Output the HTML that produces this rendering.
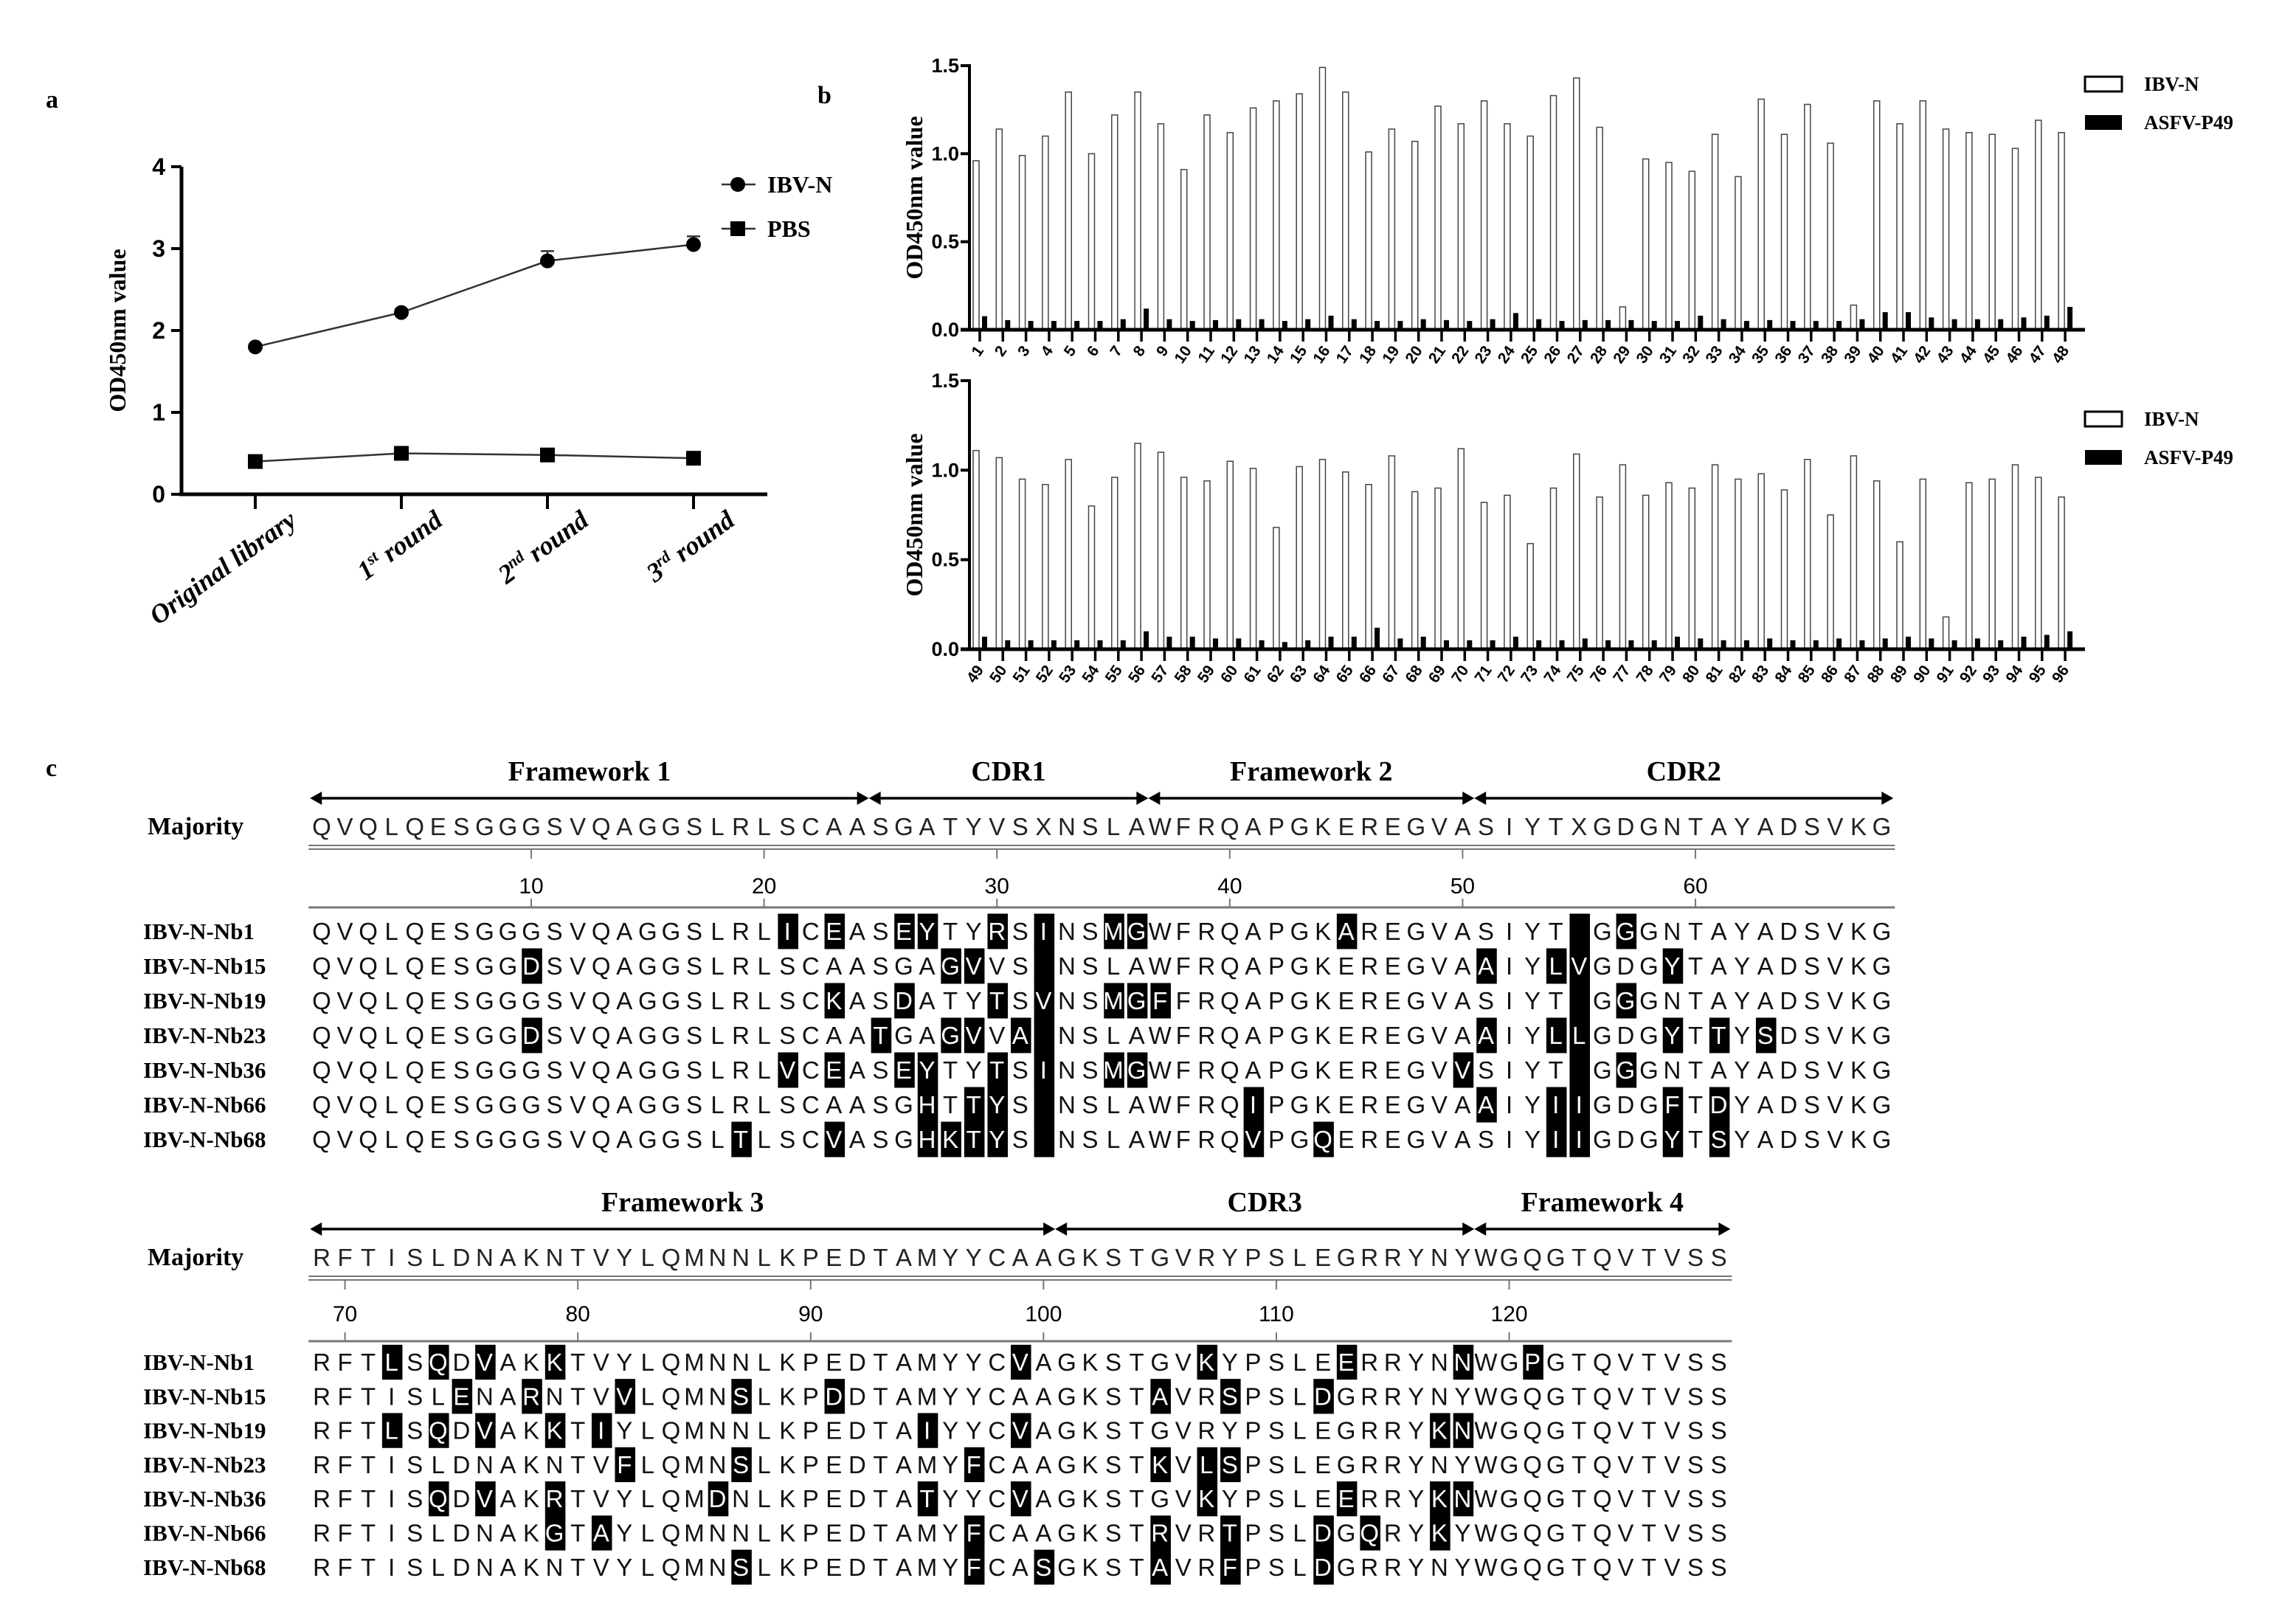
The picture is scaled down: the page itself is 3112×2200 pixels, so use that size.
<!DOCTYPE html>
<html><head><meta charset="utf-8"><style>
html,body{margin:0;padding:0;background:#fff}
svg{display:block}
.tb{font-family:"Liberation Serif",serif;font-weight:bold}
.sb{font-family:"Liberation Sans",sans-serif;font-weight:bold}
.seq{font-family:"Liberation Sans",sans-serif;font-size:33px}
</style></head><body>
<svg id="fig" width="3112" height="2200" viewBox="0 0 3112 2200" xmlns="http://www.w3.org/2000/svg">
<text x="62" y="146" class="tb" font-size="34">a</text>
<text x="1108" y="140" class="tb" font-size="34">b</text>
<text x="62" y="1052" class="tb" font-size="34">c</text>
<g id="pa"></g>
<g id="pb1"></g>
<g id="pb2"></g>
<g id="pc"></g>
</svg>
<script>
// ---------- Panel a data ----------
const roundLabels = ["Original library", "1|st| round", "2|nd| round", "3|rd| round"];
const ibvN = [1.80, 2.22, 2.85, 3.05];
const ibvNerr = [0.03, 0.04, 0.12, 0.10];
const pbs = [0.40, 0.50, 0.48, 0.44];
const aTicks = [0, 1, 2, 3, 4];

// ---------- Panel b data ----------
const clonesTop = Array.from({length:48},(_, i)=>String(i+1));
const ibvTop = [0.96,1.14,0.99,1.10,1.35,1.00,1.22,1.35,1.17,0.91,1.22,1.12,1.26,1.30,1.34,1.49,1.35,1.01,1.14,1.07,1.27,1.17,1.30,1.17,1.10,1.33,1.43,1.15,0.13,0.97,0.95,0.90,1.11,0.87,1.31,1.11,1.28,1.06,0.14,1.30,1.17,1.30,1.14,1.12,1.11,1.03,1.19,1.12];
const asfvTop = [0.077,0.055,0.05,0.05,0.05,0.05,0.06,0.12,0.06,0.05,0.055,0.06,0.06,0.05,0.06,0.08,0.06,0.05,0.05,0.06,0.055,0.05,0.06,0.095,0.06,0.05,0.055,0.055,0.055,0.05,0.05,0.08,0.06,0.05,0.055,0.05,0.05,0.05,0.06,0.10,0.10,0.07,0.06,0.06,0.06,0.07,0.08,0.13];
const clonesBot = Array.from({length:48},(_, i)=>String(i+49));
const ibvBot = [1.11,1.07,0.95,0.92,1.06,0.80,0.96,1.15,1.10,0.96,0.94,1.05,1.01,0.68,1.02,1.06,0.99,0.92,1.08,0.88,0.90,1.12,0.82,0.86,0.59,0.90,1.09,0.85,1.03,0.86,0.93,0.90,1.03,0.95,0.98,0.89,1.06,0.75,1.08,0.94,0.60,0.95,0.18,0.93,0.95,1.03,0.96,0.85];
const asfvBot = [0.07,0.05,0.05,0.05,0.05,0.05,0.05,0.10,0.07,0.07,0.06,0.06,0.05,0.04,0.05,0.07,0.07,0.12,0.06,0.07,0.05,0.05,0.05,0.07,0.05,0.05,0.06,0.05,0.05,0.05,0.07,0.06,0.05,0.05,0.06,0.05,0.05,0.06,0.05,0.06,0.07,0.06,0.05,0.06,0.05,0.07,0.08,0.10];
const bTicks = [0.0, 0.5, 1.0, 1.5];
const bTickLabels = ["0.0","0.5","1.0","1.5"];

// ---------- Panel c data ----------
const seqNames = ["IBV-N-Nb1","IBV-N-Nb15","IBV-N-Nb19","IBV-N-Nb23","IBV-N-Nb36","IBV-N-Nb66","IBV-N-Nb68"];
const majority1 = "QVQLQESGGGSVQAGGSLRLSCAASGATYVSXNSLAWFRQAPGKEREGVASIYTXGDGNTAYADSVKG";
const seqs1 = [
"QVQLQESGGGSVQAGGSLRLICEASEYTYRSINSMGWFRQAPGKAREGVASIYT-GGGNTAYADSVKG",
"QVQLQESGGDSVQAGGSLRLSCAASGAGVVS-NSLAWFRQAPGKEREGVAAIYLVGDGYTAYADSVKG",
"QVQLQESGGGSVQAGGSLRLSCKASDATYTSVNSMGFFRQAPGKEREGVASIYT-GGGNTAYADSVKG",
"QVQLQESGGDSVQAGGSLRLSCAATGAGVVA-NSLAWFRQAPGKEREGVAAIYLLGDGYTTYSDSVKG",
"QVQLQESGGGSVQAGGSLRLVCEASEYTYTSINSMGWFRQAPGKEREGVVSIYT-GGGNTAYADSVKG",
"QVQLQESGGGSVQAGGSLRLSCAASGHTTYS-NSLAWFRQIPGKEREGVAAIYIIGDGFTDYADSVKG",
"QVQLQESGGGSVQAGGSLTLSCVASGHKTYS-NSLAWFRQVPGQEREGVASIYIIGDGYTSYADSVKG"];
const majority2 = "RFTISLDNAKNTVYLQMNNLKPEDTAMYYCAAGKSTGVRYPSLEGRRYNYWGQGTQVTVSS";
const seqs2 = [
"RFTLSQDVAKKTVYLQMNNLKPEDTAMYYCVAGKSTGVKYPSLEERRYNNWGPGTQVTVSS",
"RFTISLENARNTVVLQMNSLKPDDTAMYYCAAGKSTAVRSPSLDGRRYNYWGQGTQVTVSS",
"RFTLSQDVAKKTIYLQMNNLKPEDTAIYYCVAGKSTGVRYPSLEGRRYKNWGQGTQVTVSS",
"RFTISLDNAKNTVFLQMNSLKPEDTAMYFCAAGKSTKVLSPSLEGRRYNYWGQGTQVTVSS",
"RFTISQDVAKRTVYLQMDNLKPEDTATYYCVAGKSTGVKYPSLEERRYKNWGQGTQVTVSS",
"RFTISLDNAKGTAYLQMNNLKPEDTAMYFCAAGKSTRVRTPSLDGQRYKYWGQGTQVTVSS",
"RFTISLDNAKNTVYLQMNSLKPEDTAMYFCASGKSTAVRFPSLDGRRYNYWGQGTQVTVSS"];
const regions1 = [["Framework 1",1,24],["CDR1",25,36],["Framework 2",37,50],["CDR2",51,68]];
const regions2 = [["Framework 3",69,100],["CDR3",101,118],["Framework 4",119,129]];

const NS="http://www.w3.org/2000/svg";
function mk(parent, tag, attrs, text){
  const e=document.createElementNS(NS,tag);
  for(const k in attrs) e.setAttribute(k,attrs[k]);
  if(text!==undefined) e.textContent=text;
  parent.appendChild(e); return e;
}

// ---------- Panel a ----------
(function(){
  const g=document.getElementById('pa');
  const x0=246, x1=1040, y0=670, yTop=226;
  const ys=v=>y0-(v/4)*(y0-yTop);
  const xs=i=>346+i*198;
  let ax=mk(g,'line',{x1:x0,y1:yTop,x2:x0,y2:y0,stroke:'#000','stroke-width':5});
   
  let bx=mk(g,'line',{x1:x0-3,y1:y0,x2:x1,y2:y0,stroke:'#000','stroke-width':5});
   
  aTicks.forEach(t=>{
    mk(g,'line',{x1:x0-14,y1:ys(t),x2:x0,y2:ys(t),stroke:'#000','stroke-width':4});
    const tl=mk(g,'text',{x:x0-22,y:ys(t)+11,'text-anchor':'end','font-size':32,class:'sb'},String(t));
     
  });
  roundLabels.forEach((lab,i)=>{
    mk(g,'line',{x1:xs(i),y1:y0,x2:xs(i),y2:y0+20,stroke:'#000','stroke-width':4});
    const t=mk(g,'text',{transform:`translate(${xs(i)+58},${y0+40}) rotate(-36)`,'text-anchor':'end','font-size':36,class:'tb','font-style':'italic'});
     
    const parts=lab.split('|');
    parts.forEach((p,j)=>{ mk(t,'tspan',j===1?{'font-size':22,dy:-13}:(j===2?{dy:13}:{}),p); });
  });
  const yl=mk(g,'text',{transform:`translate(170,448) rotate(-90)`,'text-anchor':'middle','font-size':32,class:'tb'},'OD450nm value');
   
  const l1=mk(g,'polyline',{points:ibvN.map((v,i)=>xs(i)+','+ys(v)).join(' '),fill:'none',stroke:'#333','stroke-width':2.5});
   
  const l2=mk(g,'polyline',{points:pbs.map((v,i)=>xs(i)+','+ys(v)).join(' '),fill:'none',stroke:'#333','stroke-width':2.5});
   
  ibvN.forEach((v,i)=>{
    const e=ibvNerr[i];
    mk(g,'line',{x1:xs(i),y1:ys(v),x2:xs(i),y2:ys(v+e),stroke:'#333','stroke-width':2.5});
    mk(g,'line',{x1:xs(i)-9,y1:ys(v+e),x2:xs(i)+9,y2:ys(v+e),stroke:'#333','stroke-width':2.5});
    const c=mk(g,'circle',{cx:xs(i),cy:ys(v),r:10,fill:'#000'});
     
  });
  pbs.forEach((v,i)=>{
    const r=mk(g,'rect',{x:xs(i)-10,y:ys(v)-10,width:20,height:20,fill:'#000'});
     
  });
  const lg1=mk(g,'g',{});  
  mk(lg1,'line',{x1:978,y1:250,x2:1024,y2:250,stroke:'#333','stroke-width':2.5});
  mk(lg1,'circle',{cx:1000,cy:250,r:10,fill:'#000'});
  mk(lg1,'text',{x:1040,y:261,'font-size':32,class:'tb'},'IBV-N');
  const lg2=mk(g,'g',{});  
  mk(lg2,'line',{x1:978,y1:310,x2:1024,y2:310,stroke:'#333','stroke-width':2.5});
  mk(lg2,'rect',{x:990,y:300,width:20,height:20,fill:'#000'});
  mk(lg2,'text',{x:1040,y:321,'font-size':32,class:'tb'},'PBS');
})();

// ---------- Panel b ----------
function barChart(id, cats, v1, v2, yTop, y0, legY){
  const g=document.getElementById(id);
  const x0=1314, x1=2826;
  const ys=v=>y0-(v/1.5)*(y0-yTop);
  const xc=i=>1328+i*31.3;
  cats.forEach((c,i)=>{
    const w=mk(g,'rect',{x:xc(i)-9,y:ys(v1[i]),width:8,height:y0-ys(v1[i]),fill:'#fff',stroke:'#444','stroke-width':1.5});
     
    const b=mk(g,'rect',{x:xc(i)+3,y:ys(v2[i]),width:7,height:y0-ys(v2[i]),fill:'#000'});
     
    mk(g,'line',{x1:xc(i),y1:y0,x2:xc(i),y2:y0+16,stroke:'#000','stroke-width':3.5});
    const t=mk(g,'text',{transform:`translate(${xc(i)+6},${y0+28}) rotate(-55)`,'text-anchor':'end','font-size':21,class:'sb'},c);
     
  });
  const ax=mk(g,'line',{x1:x0,y1:yTop-2,x2:x0,y2:y0,stroke:'#000','stroke-width':4});
   
  const bx=mk(g,'line',{x1:x0-12,y1:y0,x2:x1,y2:y0,stroke:'#000','stroke-width':5});
   
  bTicks.forEach((t,i)=>{
    mk(g,'line',{x1:x0-12,y1:ys(t),x2:x0,y2:ys(t),stroke:'#000','stroke-width':4});
    const tl=mk(g,'text',{x:x0-14,y:ys(t)+9,'text-anchor':'end','font-size':27,class:'sb'},bTickLabels[i]);
     
  });
  const yl=mk(g,'text',{transform:`translate(1250,${(yTop+y0)/2}) rotate(-90)`,'text-anchor':'middle','font-size':32,class:'tb'},'OD450nm value');
   
  const l1=mk(g,'g',{});  
  mk(l1,'rect',{x:2826,y:legY-10,width:50,height:20,fill:'#fff',stroke:'#000','stroke-width':3});
  mk(l1,'text',{x:2906,y:legY+9,'font-size':27,class:'tb'},'IBV-N');
  const l2=mk(g,'g',{});  
  mk(l2,'rect',{x:2826,y:legY+42,width:50,height:20,fill:'#000'});
  mk(l2,'text',{x:2906,y:legY+61,'font-size':27,class:'tb'},'ASFV-P49');
}
barChart('pb1', clonesTop, ibvTop, asfvTop, 89, 447, 114);
barChart('pb2', clonesBot, ibvBot, asfvBot, 516, 880, 568);

// ---------- Panel c ----------
(function(){
  const g=document.getElementById('pc');
  const CW=31.56, X0=436;
  const cx=k=>X0+k*CW;
  function block(startNum, majority, seqs, regions, hdrY, arrowY, majY, line1Y, numY, line2Y, rowY0, rowDy){
    regions.forEach(r=>{
      const xa=cx(r[1]-startNum)-CW/2, xb=cx(r[2]-startNum)+CW/2;
      const rg=mk(g,'g',{});  
      mk(rg,'text',{x:(xa+xb)/2,y:hdrY,'text-anchor':'middle','font-size':38,class:'tb'},r[0]);
      mk(rg,'line',{x1:xa+10,y1:arrowY,x2:xb-10,y2:arrowY,stroke:'#000','stroke-width':3.5});
      mk(rg,'polygon',{points:`${xa},${arrowY} ${xa+16},${arrowY-9} ${xa+16},${arrowY+9}`,fill:'#000'});
      mk(rg,'polygon',{points:`${xb},${arrowY} ${xb-16},${arrowY-9} ${xb-16},${arrowY+9}`,fill:'#000'});
    });
    const n=majority.length;
    const xL=cx(0)-CW/2-2, xR=cx(n-1)+CW/2+2;
    const mn=mk(g,'text',{x:200,y:majY+11,'font-size':34,class:'tb'},'Majority');
     
    const mt=mk(g,'g',{});  
    for(let k=0;k<n;k++) mk(mt,'text',{x:cx(k),y:majY+12,'text-anchor':'middle',class:'seq',fill:'#222'},majority[k]);
    mk(g,'line',{x1:xL,y1:line1Y,x2:xR,y2:line1Y,stroke:'#777','stroke-width':2});
    mk(g,'line',{x1:xL,y1:line1Y+5,x2:xR,y2:line1Y+5,stroke:'#777','stroke-width':2});
    mk(g,'line',{x1:xL,y1:line2Y,x2:xR,y2:line2Y,stroke:'#777','stroke-width':3});
    for(let k=0;k<n;k++){
      const num=startNum+k;
      if(num%10===0){
        mk(g,'line',{x1:cx(k),y1:line1Y+5,x2:cx(k),y2:line1Y+18,stroke:'#777','stroke-width':2});
        mk(g,'line',{x1:cx(k),y1:line2Y-12,x2:cx(k),y2:line2Y,stroke:'#777','stroke-width':2});
        const t=mk(g,'text',{x:cx(k),y:numY+11,'text-anchor':'middle','font-size':30,'font-family':'Liberation Sans, sans-serif'},String(num));
         
      }
    }
    seqs.forEach((s,r)=>{
      const y=rowY0+r*rowDy;
      const nm=mk(g,'text',{x:194,y:y+11,'font-size':31,class:'tb'},seqNames[r]);
       
      const rowG=mk(g,'g',{});  
      for(let k=0;k<s.length;k++){
        const ch=s[k], m=majority[k];
        const hl = ch!==m || m==='X';
        if(hl) mk(rowG,'rect',{x:cx(k)-CW/2+3,y:y-rowDy/2,width:CW-4,height:rowDy+1,fill:'#000'});
        if(ch!=='-') mk(rowG,'text',{x:cx(k),y:y+12,'text-anchor':'middle',class:'seq',fill:hl?'#fff':'#111'},ch);
      }
    });
  }
  block(1, majority1, seqs1, regions1, 1058, 1082, 1120, 1146, 1200, 1230, 1262, 47);
  block(69, majority2, seqs2, regions2, 1642, 1666, 1704, 1730, 1780, 1818, 1846, 46.3);
})();
</script>
</body></html>
